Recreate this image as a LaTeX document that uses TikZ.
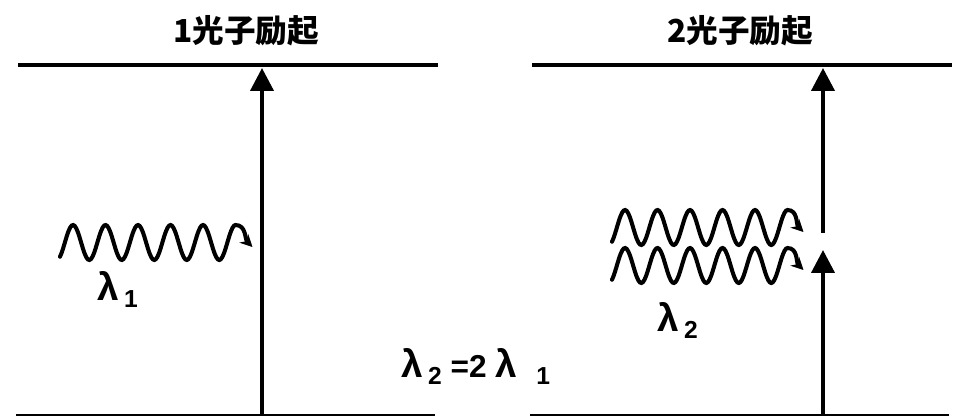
\documentclass[tikz,border=0pt]{standalone}
\usepackage{fontspec}
\setmainfont{Liberation Sans}
\newfontfamily\cjk{Noto Sans CJK SC}
\usetikzlibrary{arrows.meta,positioning}
\tikzset{
 level/.style={line width=2.8pt},
 ground/.style={line width=1.1pt},
 excite/.style={line width=2.3pt,-{Triangle[length=13pt,width=13pt]}},
 photon/.style={line width=2.3pt,line cap=round,-{Stealth[length=7pt,width=7pt]}},
 title/.style={font=\cjk\bfseries\fontsize{18}{20}\selectfont},
 lam/.style={font=\bfseries\fontsize{18}{20}\selectfont,inner sep=0pt},
}
\newcommand{\lm}{{\fontsize{22}{24}\selectfont λ}}
\newcommand{\sub}[1]{\raisebox{-4.5pt}{\fontsize{14}{16}\selectfont #1}}

\begin{document}
\begin{tikzpicture}[x=0.2mm,y=-0.2mm]
\useasboundingbox (0,0) rectangle (955,417);
% titles
\node[title] (t1) at (246,31) {1光子励起};
\node[title] (t2) at (740,31) {2光子励起};
% energy levels
\coordinate (e1l) at (18,65);
\coordinate (e1r) at (438,65);
\coordinate (g1l) at (16,415);
\coordinate (g1r) at (435,415);
\coordinate (e2l) at (532,65);
\coordinate (e2r) at (952,65);
\coordinate (g2l) at (530,415);
\coordinate (g2r) at (949,415);
\draw[level] (e1l) -- (e1r);
\draw[level] (e2l) -- (e2r);
\draw[ground] (g1l) -- (g1r);
\draw[ground] (g2l) -- (g2r);
% excitation arrows
\coordinate (a1) at (262,415);
\coordinate (b1) at (262,68);
\coordinate (a2) at (823,415);
\coordinate (m2) at (823,250);
\coordinate (n2) at (823,233);
\coordinate (b2) at (823,68);
\draw[excite] (a1) -- (b1);
\draw[excite] (a2) -- (m2);
\draw[excite] (n2) -- (b2);
% photons
\draw[photon] plot[domain=60:235.5,samples=120,smooth] (\x,{242.5-17.5*sin(((\x-73)/32.5)*360+90)}) to[out=0,in=135] ++(17,22);
\draw[photon] plot[domain=612:787.5,samples=120,smooth] (\x,{227.5-17.5*sin(((\x-625)/32.5)*360+90)}) to[out=0,in=135] ++(16,22);
\draw[photon] plot[domain=612:787.5,samples=120,smooth] (\x,{265.5-17.5*sin(((\x-625)/32.5)*360+90)}) to[out=0,in=135] ++(16,22);
% wavelengths
\node[lam,anchor=base west] (l1) at (97,300) {\lm\hspace{3pt}\sub{1}};
\node[lam,anchor=base west] (l2) at (657,331) {\lm\hspace{3pt}\sub{2}};
\node[lam,anchor=base west] (rel) at (401,377) {\lm\hspace{3pt}\sub{2}\hspace{5pt}=2\hspace{5pt}\lm\hspace{11pt}\sub{1}};
\end{tikzpicture}
\end{document}
